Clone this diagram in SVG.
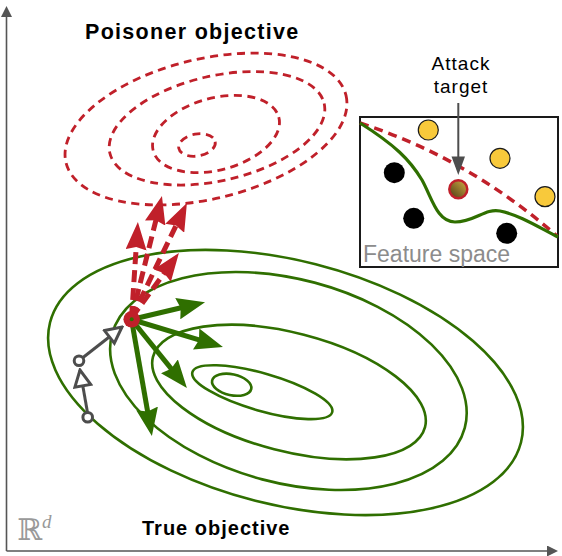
<svg xmlns="http://www.w3.org/2000/svg" width="562" height="556" viewBox="0 0 562 556">
<style>
.green{fill:none;stroke:#2f6f00;stroke-width:2.6}
.reddash{fill:none;stroke:#c0202a;stroke-width:2.8;stroke-dasharray:8 5.5}
.garrow{fill:none;stroke:#2f6f00;stroke-width:5}
.rarrow{fill:none;stroke:#c0202a;stroke-width:5;stroke-dasharray:12 6}
.gray{fill:none;stroke:#4d4d4d;stroke-width:3}
.title{font-family:"Liberation Sans",Arial,sans-serif;font-weight:bold;fill:#000}
.lbl{font-family:"Liberation Sans",Arial,sans-serif;fill:#000}
</style>
<defs>
<marker id="gh" markerUnits="userSpaceOnUse" viewBox="0 0 28 22" markerWidth="28" markerHeight="22" refX="10" refY="11" orient="auto">
<path d="M0,0 L28,11 L0,22 L3,11 z" fill="#2f6f00"/>
</marker>
<marker id="rh" markerUnits="userSpaceOnUse" viewBox="0 0 28 21" markerWidth="28" markerHeight="21" refX="10" refY="10.5" orient="auto">
<path d="M0,0 L28,10.5 L0,21 L3,10.5 z" fill="#c0202a"/>
</marker>
<marker id="oh" markerUnits="userSpaceOnUse" viewBox="-2 -2 20 20" markerWidth="20" markerHeight="20" refX="16" refY="8" orient="auto">
<path d="M0,0 L16,8 L0,16 z" fill="#fff" stroke="#4d4d4d" stroke-width="3" stroke-linejoin="miter"/>
</marker>
<marker id="ax" markerUnits="userSpaceOnUse" viewBox="0 0 11 11" markerWidth="11" markerHeight="11" refX="0" refY="5.5" orient="auto">
<path d="M0,0 L11,5.5 L0,11 z" fill="#555"/>
</marker>
<linearGradient id="tg" x1="1" y1="0" x2="0" y2="1">
<stop offset="0" stop-color="#d4ad45"/>
<stop offset="1" stop-color="#4a3812"/>
</linearGradient>
</defs>

<g id="axes">
<path d="M6.5,551 L6.5,17" fill="none" stroke="#555" stroke-width="1.6" marker-end="url(#ax)"/>
<path d="M6.5,551 L547,551" fill="none" stroke="#555" stroke-width="1.6" marker-end="url(#ax)"/>
</g>

<g id="true-objective">
<ellipse class="green" cx="231.7" cy="384.7" rx="20" ry="10.5" transform="rotate(12 231.7 384.7)"/>
<ellipse class="green" cx="262.3" cy="392.2" rx="72.7" ry="18.7" transform="rotate(16 262.3 392.2)"/>
<ellipse class="green" cx="289" cy="392" rx="140.5" ry="59.2" transform="rotate(14.5 289 392)"/>
<ellipse class="green" cx="288.4" cy="381" rx="182.5" ry="101.8" transform="rotate(14.9 288.4 381)"/>
<ellipse class="green" cx="285.5" cy="382.5" rx="243" ry="122" transform="rotate(14.3 285.5 382.5)"/>
</g>

<g id="poisoner-objective">
<ellipse class="reddash" cx="197" cy="145" rx="18.5" ry="11" transform="rotate(-10 197 145)"/>
<ellipse class="reddash" cx="216" cy="134" rx="65" ry="36" transform="rotate(-15 216 134)"/>
<ellipse class="reddash" cx="217" cy="128.3" rx="110" ry="52.4" transform="rotate(-13 217 128.3)"/>
<ellipse class="reddash" cx="206" cy="129" rx="144" ry="70" transform="rotate(-13.5 206 129)"/>
</g>

<g id="connectors">
<path class="rarrow" d="M131.5,318 L136.7,239.9" marker-end="url(#rh)"/>
<path class="rarrow" d="M131.5,318 L157.6,213.4" marker-end="url(#rh)"/>
<path class="rarrow" d="M131.5,318 L179.1,219.2" marker-end="url(#rh)"/>
<path class="rarrow" d="M131.5,318 L168.3,267.5" marker-end="url(#rh)"/>
<path class="garrow" d="M131.5,319.5 L187.5,306.3" marker-end="url(#gh)"/>
<path class="garrow" d="M131.5,319.5 L205.7,341.9" marker-end="url(#gh)"/>
<path class="garrow" d="M131.5,319.5 L175.6,374.1" marker-end="url(#gh)"/>
<path class="garrow" d="M131.5,319.5 L148.8,418.3" marker-end="url(#gh)"/>
<path class="gray" d="M87.5,412.5 L80,370" marker-end="url(#oh)"/>
<path class="gray" d="M83,357.5 L122,327" marker-end="url(#oh)"/>
</g>

<g id="iterates">
<circle cx="87.7" cy="417.3" r="4.8" fill="#fff" stroke="#4d4d4d" stroke-width="3"/>
<circle cx="79" cy="360.7" r="4.8" fill="#fff" stroke="#4d4d4d" stroke-width="3"/>
</g>

<g id="current-point">
<circle cx="131.7" cy="319.3" r="8.3" fill="#c0202a"/>
<circle cx="131.7" cy="319.3" r="2" fill="#2f6f00"/>
</g>

<g id="feature-space">
<rect x="360" y="117" width="198" height="150" fill="#fff" stroke="#1a1a1a" stroke-width="2"/>
<path d="M360,123 Q468,158 557,236" fill="none" stroke="#c0202a" stroke-width="3.5" stroke-dasharray="9 6"/>
<path d="M360,123 C395,145 410,160 422,180 C432,198 437,222 455,222 C475,222 485,208 500,211 C520,215 540,228 558,237" fill="none" stroke="#2f6f00" stroke-width="3.2"/>
<circle cx="428.3" cy="130" r="10" fill="#f8c93b" stroke="#1a1a1a" stroke-width="1.2"/>
<circle cx="500" cy="158.3" r="10" fill="#f8c93b" stroke="#1a1a1a" stroke-width="1.2"/>
<circle cx="545" cy="196.7" r="10" fill="#f8c93b" stroke="#1a1a1a" stroke-width="1.2"/>
<circle cx="394.3" cy="172.7" r="10.5" fill="#000"/>
<circle cx="413.7" cy="218.3" r="10.5" fill="#000"/>
<circle cx="506.7" cy="233.3" r="10.5" fill="#000"/>
<circle cx="458.3" cy="189.3" r="9" fill="url(#tg)" stroke="#c0202a" stroke-width="2.5"/>
<text x="363" y="261.7" font-family="Liberation Sans, Arial, sans-serif" font-size="23" fill="#8c8c8c">Feature space</text>
</g>

<g id="attack-target">
<text class="lbl" x="461" y="70" font-size="19" letter-spacing="1" text-anchor="middle">Attack</text>
<text class="lbl" x="461" y="93.3" font-size="19" letter-spacing="1" text-anchor="middle">target</text>
<path d="M458.3,103 L458.3,158" fill="none" stroke="#4d4d4d" stroke-width="2"/>
<path d="M451.5,156.5 L465,156.5 L458.3,175 z" fill="#4d4d4d"/>
</g>

<g id="labels">
<text class="title" x="85" y="39.3" font-size="21.5" letter-spacing="1.3">Poisoner objective</text>
<text class="title" x="142" y="535" font-size="20" letter-spacing="1">True objective</text>
<text x="17" y="540" font-family="DejaVu Serif, serif" font-size="30" fill="#999">ℝ</text>
<text x="42" y="527.5" font-family="Liberation Serif, serif" font-style="italic" font-size="19" fill="#999">d</text>
</g>
</svg>
